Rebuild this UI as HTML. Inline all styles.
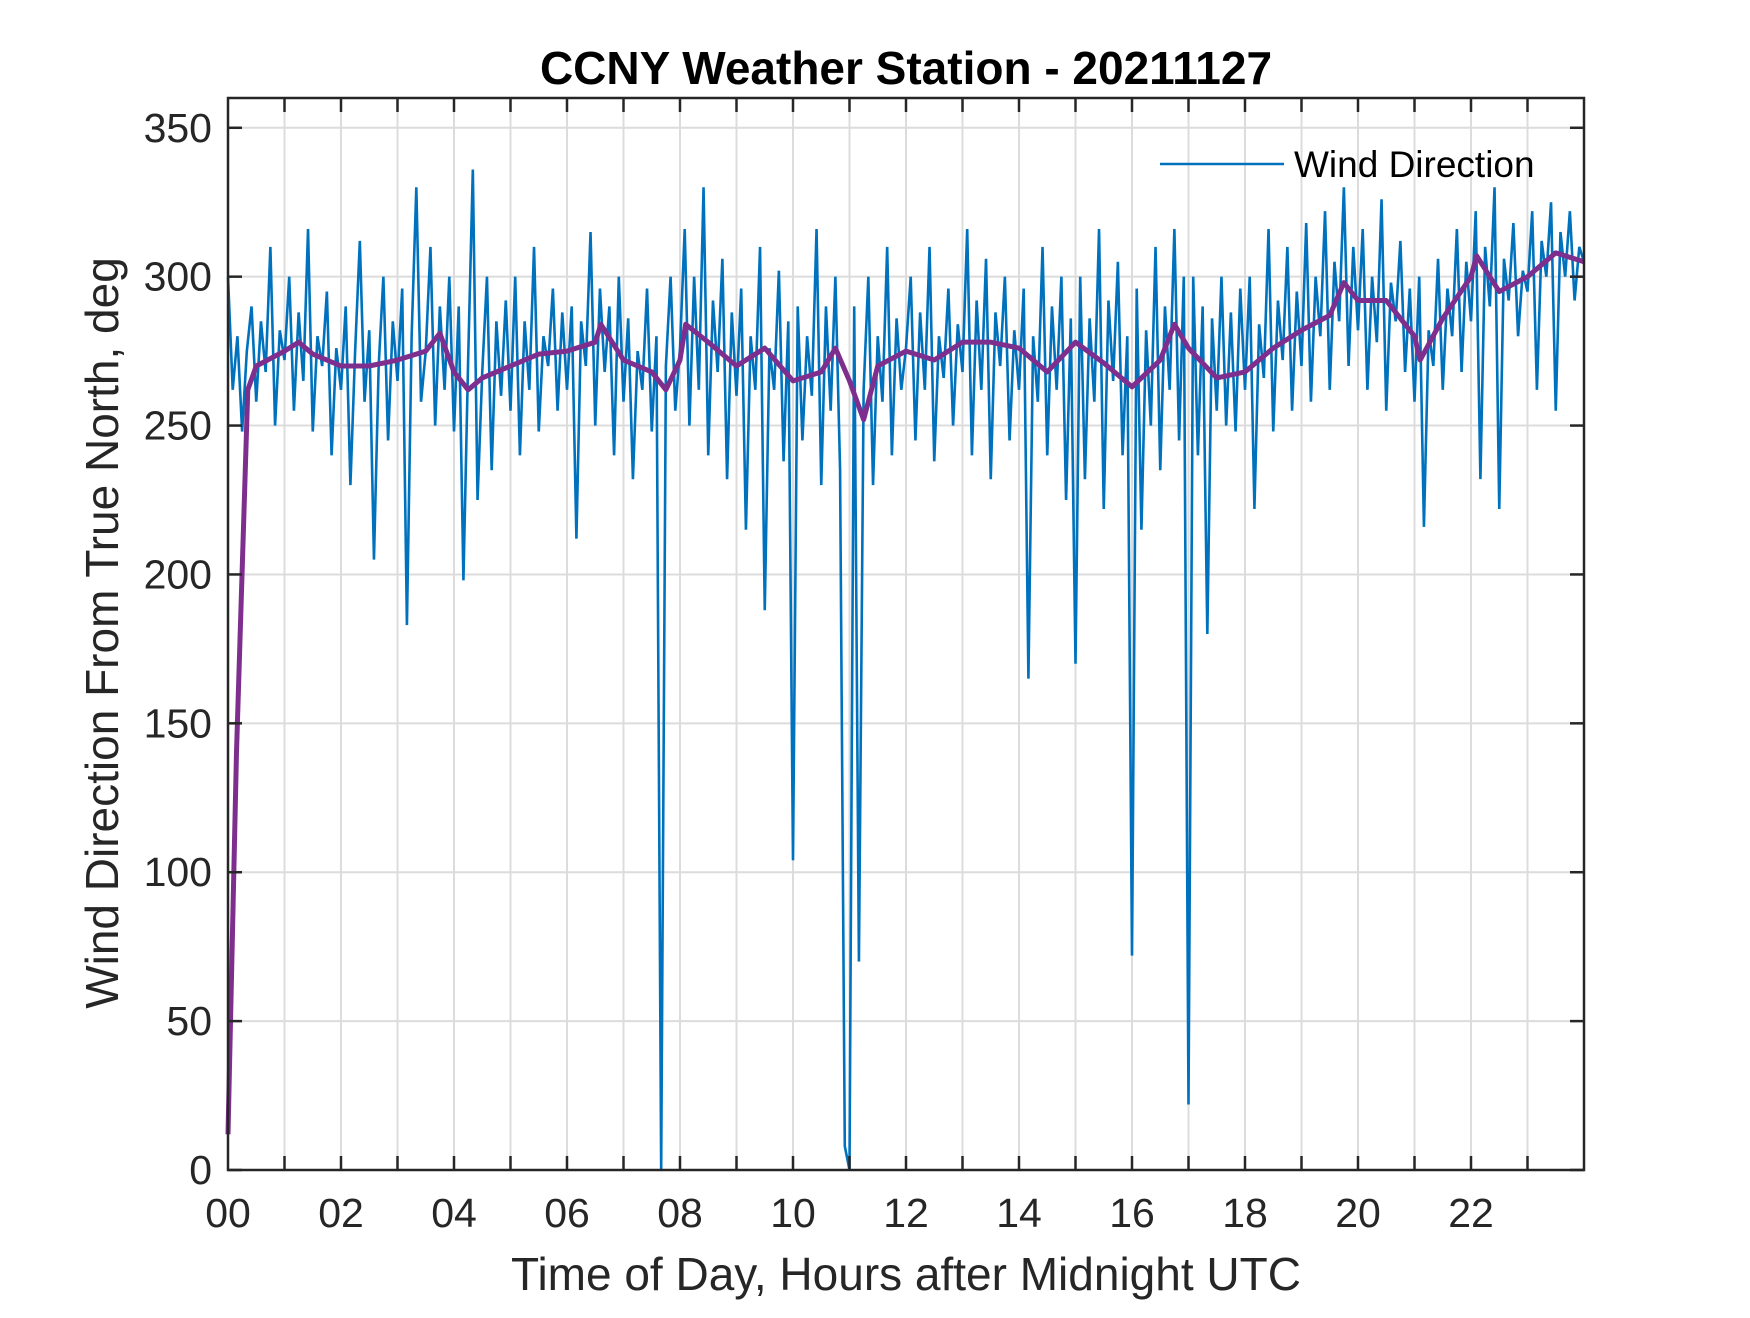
<!DOCTYPE html>
<html><head><meta charset="utf-8"><style>
html,body{margin:0;padding:0;background:#fff;}
svg text{font-family:"Liberation Sans",Arial,sans-serif;fill:#262626;}
</style></head><body>
<svg id="chart" width="1750" height="1313" viewBox="0 0 1750 1313" xmlns="http://www.w3.org/2000/svg">
<rect width="1750" height="1313" fill="#fff"/>
<g id="grid"></g>
<g id="series"></g>
<g id="axes"></g>
<text x="906" y="84" text-anchor="middle" font-size="46" font-weight="bold" style="fill:#000">CCNY Weather Station - 20211127</text>
<text x="906" y="1290" text-anchor="middle" font-size="46">Time of Day, Hours after Midnight UTC</text>
<text transform="translate(118,633) rotate(-90)" text-anchor="middle" font-size="46">Wind Direction From True North, deg</text>
<g>
<line x1="1160" y1="164" x2="1284" y2="164" stroke="#0072BD" stroke-width="2.5"/>
<text x="1294" y="177" font-size="37" style="fill:#000">Wind Direction</text>
</g>
</svg>
<script>
const blueValues = [
300,262,280,248,275,290,258,285,268,310,250,282,
272,300,255,288,265,316,248,280,270,295,240,276,
262,290,230,275,312,258,282,205,270,300,245,285,
265,296,183,280,330,258,275,310,250,290,262,300,
248,290,198,272,336,225,268,300,235,285,260,292,
255,300,240,285,262,310,248,280,270,296,255,288,
262,290,212,285,270,315,250,296,268,290,240,300,
258,286,232,275,262,296,248,280,0,270,300,255,
276,316,250,300,262,330,240,292,268,306,232,288,
260,296,215,280,262,310,188,276,262,302,238,285,
104,290,245,280,260,316,230,290,255,300,235,8,
0,290,70,262,300,230,280,258,310,240,286,262,
276,300,245,288,262,310,238,280,266,296,250,284,
268,316,240,292,262,306,232,288,270,300,245,282,
262,296,165,280,258,310,240,290,262,300,225,286,
170,300,232,286,258,316,222,292,265,305,240,280,
72,296,215,282,250,310,235,290,262,316,245,300,
22,300,240,290,180,286,255,300,250,288,248,296,
262,300,222,284,266,316,248,292,272,310,255,295,
270,318,258,300,280,322,262,305,285,330,270,310,
282,316,262,300,278,326,255,298,285,312,268,296,
258,300,216,282,270,306,262,296,280,316,268,305,
285,322,232,310,290,330,222,306,292,318,280,302,
295,322,262,312,300,325,255,315,300,322,292,310,305];
const avgHours = [0,0.15,0.35,0.5,1,1.25,1.5,2,2.5,3,3.5,3.75,4,4.25,4.5,5,5.5,6,6.5,6.6,7,7.5,7.75,8,8.1,8.5,9,9.5,10,10.5,10.75,11,11.25,11.5,12,12.5,13,13.5,14,14.5,15,15.5,16,16.5,16.75,17,17.5,18,18.5,19,19.5,19.75,20,20.5,21,21.1,21.5,22,22.1,22.5,23,23.5,24];
const avgValues = [12,140,262,270,275,278,274,270,270,272,275,281,268,262,266,270,274,275,278,284,272,268,262,272,284,278,270,276,265,268,276,265,252,270,275,272,278,278,276,268,278,271,263,272,284,276,266,268,276,282,287,298,292,292,280,272,286,300,307,295,300,308,305];
const yTicks = [0,50,100,150,200,250,300,350];
const xTickLabels = ["00","02","04","06","08","10","12","14","16","18","20","22"];

const L=228,R=1584,T=98,B=1170;
const x = h => L + (R-L)*h/24;
const y = v => B - (B-T)*v/360;
const NS="http://www.w3.org/2000/svg";
function mk(tag, parent, attrs){const e=document.createElementNS(NS,tag);for(const k in attrs)e.setAttribute(k,attrs[k]);parent.appendChild(e);return e;}
const grid=document.getElementById('grid'), series=document.getElementById('series'), axes=document.getElementById('axes');

for(let h=1;h<24;h++){
  const g=mk('line',grid,{x1:x(h),x2:x(h),y1:T,y2:B,stroke:'#dcdcdc','stroke-width':2});
  
  
}
yTicks.forEach(v=>{
  if(v===0) return;
  const g=mk('line',grid,{x1:L,x2:R,y1:y(v),y2:y(v),stroke:'#dcdcdc','stroke-width':2});
  
  
});

const n=blueValues.length;
const bp=blueValues.map((v,i)=>x(i*24/(n-1)).toFixed(2)+','+y(v).toFixed(2)).join(' ');
const blue=mk('polyline',series,{points:bp,fill:'none',stroke:'#0072BD','stroke-width':2.6,'stroke-linejoin':'miter'});



const ap=avgValues.map((v,i)=>x(avgHours[i]).toFixed(2)+','+y(v).toFixed(2)).join(' ');
const avg=mk('polyline',series,{points:ap,fill:'none',stroke:'#7E2F8E','stroke-width':5,'stroke-linejoin':'round'});



const frame=mk('rect',axes,{x:L,y:T,width:R-L,height:B-T,fill:'none',stroke:'#262626','stroke-width':2.5});



for(let h=1;h<24;h++){
  const t1=mk('line',axes,{x1:x(h),x2:x(h),y1:B,y2:B-14,stroke:'#262626','stroke-width':2.5});
  
  
  const t2=mk('line',axes,{x1:x(h),x2:x(h),y1:T,y2:T+14,stroke:'#262626','stroke-width':2.5});
  
  
}
xTickLabels.forEach((lab,i)=>{
  const t=mk('text',axes,{x:x(i*2),y:1227,'text-anchor':'middle','font-size':41});
  t.textContent=lab;
  
  
});
yTicks.forEach(v=>{
  const a=mk('line',axes,{x1:L,x2:L+14,y1:y(v),y2:y(v),stroke:'#262626','stroke-width':2.5});
  
  
  const b=mk('line',axes,{x1:R-14,x2:R,y1:y(v),y2:y(v),stroke:'#262626','stroke-width':2.5});
  
  
  const t=mk('text',axes,{x:212,y:y(v)+14,'text-anchor':'end','font-size':41});
  t.textContent=v;
  
  
});
</script>
</body></html>
